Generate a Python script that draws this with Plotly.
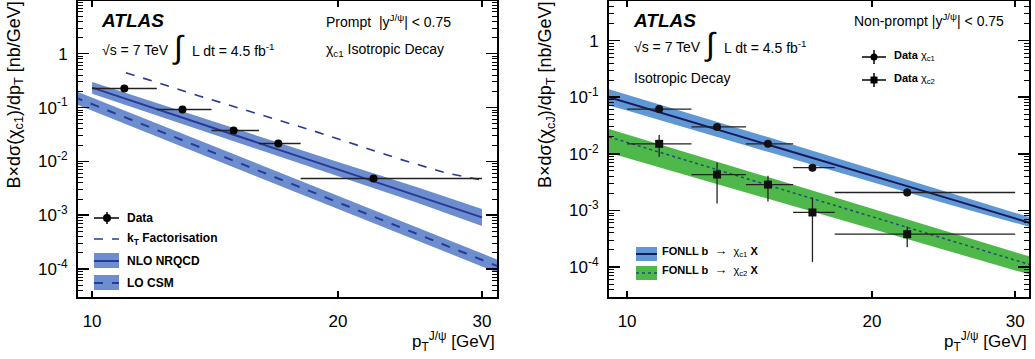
import numpy as np
import plotly.graph_objects as go

W, H = 1035, 359

# ---------------- data: left panel (prompt chi_c1) ----------------
pt_data = [10.95, 12.9, 14.9, 16.9, 22.1]
bin_lo = [10, 12, 14, 16, 18]
bin_hi = [12, 14, 16, 18, 30]
prompt_c1 = [0.225, 0.092, 0.0375, 0.0216, 0.0048]
prompt_c1_err = [0.012, 0.005, 0.002, 0.0012, 0.0003]

nlo_pt = [10, 15, 20, 25, 30]
nlo_mid = [0.235, 0.0303, 0.00711, 0.00235, 0.000912]
nlo_up = [0.30, 0.040, 0.0097, 0.0033, 0.00131]
nlo_lo = [0.18, 0.023, 0.0052, 0.0017, 0.00063]

lo_pt = [9.5, 10, 15, 20, 25, 30, 31.5]
lo_mid = [0.158, 0.1156, 0.00984, 0.00172, 0.000447, 0.000147, 0.00011]
lo_up = [0.209, 0.153, 0.0130, 0.00227, 0.00059, 0.000194, 0.000145]
lo_lo = [0.120, 0.0876, 0.00745, 0.00130, 0.000339, 0.000111, 0.0000833]

kt_pt = [11, 13.55, 18.6, 23.8, 27.2, 30]
kt_val = [0.445, 0.163, 0.0375, 0.011, 0.006, 0.0045]

# ---------------- data: right panel (non-prompt) ----------------
nonprompt_c1 = [0.0616, 0.0298, 0.015, 0.0057, 0.00207]
nonprompt_c1_up = [0.0104, 0.004, 0.002, 0.0009, 0.0004]
nonprompt_c1_dn = [0.009, 0.0035, 0.0018, 0.0008, 0.0003]
nonprompt_c2 = [0.015, 0.0043, 0.00286, 0.00092, 0.00038]
nonprompt_c2_up = [0.0065, 0.0027, 0.00124, 0.00077, 0.00014]
nonprompt_c2_dn = [0.0061, 0.00297, 0.00142, 0.000797, 0.000156]

fonll_pt = [9.5, 10, 15, 20, 25, 31.5]
f1_mid = [0.1, 0.0804, 0.01422, 0.00413, 0.00158, 0.000584]
f1_up = [0.138, 0.110, 0.0192, 0.00537, 0.00201, 0.00073]
f1_lo = [0.0715, 0.058, 0.0105, 0.00318, 0.00125, 0.000495]
f2_mid = [0.0199, 0.0159, 0.00273, 0.000778, 0.000294, 0.000107]
f2_up = [0.0275, 0.0219, 0.00377, 0.00107, 0.000406, 0.000148]
f2_lo = [0.0104, 0.0084, 0.00155, 0.000464, 0.000184, 0.0000713]

BAND_L = "rgb(108,142,206)"
LINE_L = "rgb(42,56,150)"
BAND_R = "rgb(96,152,214)"
LINE_R = "rgb(26,26,90)"
GREEN = "rgb(78,184,74)"
DOT_G = "rgb(32,80,110)"
FONT = "Liberation Sans, Arial, sans-serif"

fig = go.Figure()


def band(xa, ya, x, lo, up, color):
    fig.add_trace(go.Scatter(x=x, y=lo, mode="lines", line=dict(width=0, color=color),
                             xaxis=xa, yaxis=ya, showlegend=False, hoverinfo="skip"))
    fig.add_trace(go.Scatter(x=x, y=up, mode="lines", line=dict(width=0, color=color),
                             fill="tonexty", fillcolor=color,
                             xaxis=xa, yaxis=ya, showlegend=False, hoverinfo="skip"))


# left panel
band("x", "y", lo_pt, lo_lo, lo_up, BAND_L)
fig.add_trace(go.Scatter(x=lo_pt, y=lo_mid, mode="lines", line=dict(color=LINE_L, width=2, dash="dash"),
                         xaxis="x", yaxis="y", showlegend=False))
band("x", "y", nlo_pt, nlo_lo, nlo_up, BAND_L)
fig.add_trace(go.Scatter(x=nlo_pt, y=nlo_mid, mode="lines", line=dict(color=LINE_L, width=2),
                         xaxis="x", yaxis="y", showlegend=False))
fig.add_trace(go.Scatter(x=kt_pt, y=kt_val, mode="lines", line=dict(color=LINE_L, width=1.6, dash="dash"),
                         xaxis="x", yaxis="y", showlegend=False))
fig.add_trace(go.Scatter(
    x=pt_data, y=prompt_c1, mode="markers",
    marker=dict(symbol="circle", size=8, color="black"),
    error_x=dict(type="data", symmetric=False,
                 array=[h - p for h, p in zip(bin_hi, pt_data)],
                 arrayminus=[p - l for l, p in zip(bin_lo, pt_data)],
                 color="#222", thickness=1.5, width=0),
    error_y=dict(type="data", array=prompt_c1_err, color="#222", thickness=1.5, width=0),
    xaxis="x", yaxis="y", showlegend=False))

# right panel
band("x2", "y2", fonll_pt, f1_lo, f1_up, BAND_R)
fig.add_trace(go.Scatter(x=fonll_pt, y=f1_mid, mode="lines", line=dict(color=LINE_R, width=2),
                         xaxis="x2", yaxis="y2", showlegend=False))
band("x2", "y2", fonll_pt, f2_lo, f2_up, GREEN)
fig.add_trace(go.Scatter(x=fonll_pt, y=f2_mid, mode="lines", line=dict(color=DOT_G, width=1.5, dash="dot"),
                         xaxis="x2", yaxis="y2", showlegend=False))
for vals, up, dn, sym, sz in [(nonprompt_c1, nonprompt_c1_up, nonprompt_c1_dn, "circle", 8),
                              (nonprompt_c2, nonprompt_c2_up, nonprompt_c2_dn, "square", 8)]:
    fig.add_trace(go.Scatter(
        x=pt_data, y=vals, mode="markers",
        marker=dict(symbol=sym, size=sz, color="#111"),
        error_x=dict(type="data", symmetric=False,
                     array=[h - p for h, p in zip(bin_hi, pt_data)],
                     arrayminus=[p - l for l, p in zip(bin_lo, pt_data)],
                     color="#222", thickness=1.3, width=0),
        error_y=dict(type="data", symmetric=False, array=up, arrayminus=dn,
                     color="#222", thickness=1.3, width=0),
        xaxis="x2", yaxis="y2", showlegend=False))

# axes
minor_vals = [m * 10.0 ** e for e in range(-5, 1) for m in range(2, 10)]
ylabels = ["10<sup>-4</sup>", "10<sup>-3</sup>", "10<sup>-2</sup>", "10<sup>-1</sup>", "1"]
yticks = [1e-4, 1e-3, 1e-2, 1e-1, 1]


def xax(dom, rng):
    return dict(type="log", domain=dom, range=rng, tickmode="array",
                tickvals=[10, 20, 30], ticktext=["10", "20", "30"],
                ticks="inside", ticklen=6, tickwidth=1.5, tickcolor="black",
                showline=True, linewidth=2, linecolor="black", mirror="allticks",
                showgrid=False, zeroline=False, ticklabelstandoff=8, automargin=False,
                tickfont=dict(family=FONT, size=17, color="black"))


def yax(dom, rng, anchor):
    return dict(type="log", domain=dom, range=rng, anchor=anchor, tickmode="array",
                tickvals=yticks, ticktext=ylabels,
                ticks="inside", ticklen=11, tickwidth=1.5, tickcolor="black",
                minor=dict(tickmode="array", tickvals=minor_vals, ticks="inside",
                           ticklen=5, tickwidth=1, tickcolor="black", showgrid=False),
                showline=True, linewidth=2, linecolor="black", mirror="allticks",
                showgrid=False, zeroline=False, ticklabelstandoff=5, automargin=False,
                tickfont=dict(family=FONT, size=17, color="black"))


ydom = [1 - 297 / H, 1 - 1 / H]
fig.update_layout(
    width=W, height=H, margin=dict(l=0, r=0, t=0, b=0, autoexpand=False),
    paper_bgcolor="white", plot_bgcolor="white", showlegend=False,
    xaxis=xax([78 / W, 497 / W], [np.log10(9.61), np.log10(31.3)]) | dict(anchor="y"),
    yaxis=yax(ydom, [-4.52, 0.98], "x"),
    xaxis2=xax([609 / W, 1029 / W], [np.log10(9.5), np.log10(31.2)]) | dict(anchor="y2"),
    yaxis2=yax(ydom, [-4.53, 0.70], "x2"),
)


def px(x):
    return x / W


def py(y):
    return 1 - y / H


def text(x, y, s, size=14, xa="left", ya="middle", angle=0):
    fig.add_annotation(x=px(x), y=py(y), xref="paper", yref="paper", text=s, showarrow=False,
                       xanchor=xa, yanchor=ya, textangle=angle,
                       font=dict(family=FONT, size=size, color="black"))


shapes = []


def line(x0, y0, x1, y1, color="black", width=1.5, dash="solid"):
    shapes.append(dict(type="line", xref="paper", yref="paper", x0=px(x0), y0=py(y0), x1=px(x1), y1=py(y1),
                       line=dict(color=color, width=width, dash=dash)))


def rect(x0, y0, x1, y1, color):
    shapes.append(dict(type="rect", xref="paper", yref="paper", x0=px(x0), y0=py(y0), x1=px(x1), y1=py(y1),
                       fillcolor=color, line=dict(width=0)))


def dot(x, y, r, color="black", square=False):
    shapes.append(dict(type="rect" if square else "circle", xref="paper", yref="paper",
                       x0=px(x - r), y0=py(y + r), x1=px(x + r), y1=py(y - r),
                       fillcolor=color, line=dict(width=0)))


# Y titles
text(15, 0, "B×dσ(χ<sub>c1</sub>)/dp<sub>T</sub> [nb/GeV]", size=18, xa="center", ya="top", angle=-90)
text(546, 0, "B×dσ(χ<sub>cJ</sub>)/dp<sub>T</sub> [nb/GeV]", size=18, xa="center", ya="top", angle=-90)
# X titles
text(497, 341, "p<sub>T</sub><sup>J/ψ</sup> [GeV]", size=17, xa="right")
text(1029, 341, "p<sub>T</sub><sup>J/ψ</sup> [GeV]", size=17, xa="right")

# Left panel labels
text(99, 20, "<b><i>ATLAS</i></b>", size=19)
text(100, 50, "√s = 7 TeV", size=14)
text(178, 47, "∫", size=32, xa="center")
text(190, 50, "L dt = 4.5 fb<sup>-1</sup>", size=14)
text(324, 21, "Prompt  |y<sup>J/ψ</sup>| < 0.75", size=14)
text(324, 50, "χ<sub>c1</sub> Isotropic Decay", size=14)

# Right panel labels
text(631, 20, "<b><i>ATLAS</i></b>", size=19)
text(632, 47, "√s = 7 TeV", size=14)
text(710, 44, "∫", size=32, xa="center")
text(722, 47, "L dt = 4.5 fb<sup>-1</sup>", size=14)
text(632, 78, "Isotropic Decay", size=14)
text(1006, 20, "Non-prompt |y<sup>J/ψ</sup>| < 0.75", size=14, xa="right")

# Left legend
line(94, 218, 119, 218)
line(107, 212, 107, 224)
dot(107, 218, 4)
text(125, 218, "<b>Data</b>", size=12)
line(94, 239, 119, 239, color=LINE_L, width=1.5, dash="dash")
text(125, 239, "<b>k<sub>T</sub> Factorisation</b>", size=12)
rect(94, 253, 119, 268, BAND_L)
line(94, 261, 119, 261, color=LINE_L, width=2)
text(125, 261, "<b>NLO NRQCD</b>", size=12)
rect(94, 275, 119, 290, BAND_L)
line(94, 283, 119, 283, color=LINE_L, width=2, dash="dash")
text(125, 283, "<b>LO CSM</b>", size=12)

# Right legend (data)
line(862, 57, 886, 57)
line(874, 50, 874, 64)
dot(874, 57, 3.5)
text(892, 56, "<b>Data</b> χ<sub>c1</sub>", size=11)
line(862, 80, 886, 80)
line(874, 73, 874, 87)
dot(874, 80, 3.5, square=True)
text(892, 79, "<b>Data</b> χ<sub>c2</sub>", size=11)

# Right legend (FONLL)
rect(636, 247, 657, 261, BAND_R)
line(636, 254, 657, 254, color=LINE_R, width=2)
text(660, 251, "<b>FONLL b</b>  <span style='font-size:13px'>→</span>  χ<sub>c1</sub> <b>X</b>", size=11)
rect(636, 266, 657, 280, GREEN)
line(636, 273, 657, 273, color=DOT_G, width=1.5, dash="dot")
text(660, 270, "<b>FONLL b</b>  <span style='font-size:13px'>→</span>  χ<sub>c2</sub> <b>X</b>", size=11)

fig.update_layout(shapes=shapes)
fig.write_html("out.html", config={"displayModeBar": False, "staticPlot": True},
               post_script="document.body.style.margin='0';document.body.style.overflow='hidden';")
